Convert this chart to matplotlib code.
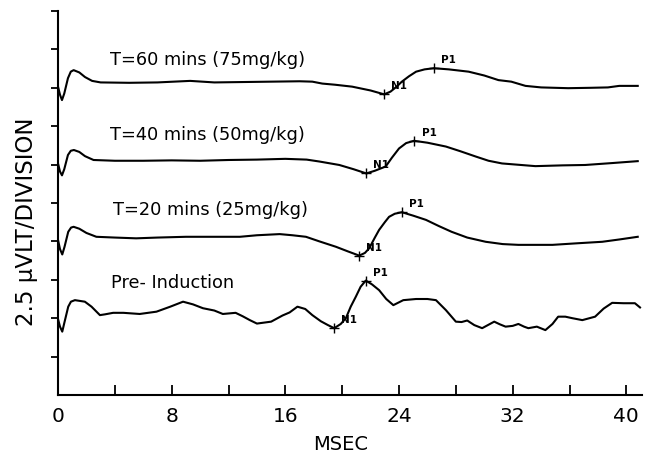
import numpy as np
import matplotlib
matplotlib.use("Agg")
import matplotlib.pyplot as plt

# traces: time (msec), amplitude (divisions)
t60 = [0, 0.14, 0.28, 0.44, 0.7, 0.9, 1.1, 1.5, 1.9, 2.4, 3.0, 5, 7, 9.3, 11,
       13, 15, 17.0, 17.9, 18.6, 19.5, 20.7, 22, 22.95, 23.4, 23.8, 24.2, 24.7,
       25.2, 25.8, 26.45, 27.5, 28.9, 30, 31.0, 31.9, 32.9, 34, 35.9, 37.5,
       38.7, 39.5, 40.8]
v60 = [8.03, 7.82, 7.68, 7.85, 8.25, 8.42, 8.46, 8.40, 8.28, 8.18, 8.14, 8.13,
       8.14, 8.18, 8.14, 8.15, 8.16, 8.17, 8.16, 8.11, 8.08, 8.03, 7.93, 7.83,
       7.9, 8.02, 8.16, 8.3, 8.42, 8.48, 8.51, 8.48, 8.42, 8.32, 8.2, 8.16,
       8.05, 8.01, 7.99, 8.0, 8.01, 8.05, 8.05]

t40 = [0, 0.14, 0.28, 0.44, 0.7, 0.9, 1.12, 1.5, 1.9, 2.5, 4, 6, 8, 10, 12, 14,
       16, 17.5, 18.4, 19.8, 20.8, 21.7, 22.3, 23.06, 23.5, 24.0, 24.5, 25.05,
       26.0, 27.3, 28.3, 29.4, 30.3, 31.25, 33.6, 35.5, 37.1, 39, 40.8]
v40 = [6.03, 5.82, 5.72, 5.88, 6.25, 6.36, 6.38, 6.33, 6.22, 6.12, 6.1, 6.1,
       6.11, 6.1, 6.12, 6.13, 6.15, 6.13, 6.08, 5.99, 5.88, 5.77, 5.84, 5.95,
       6.18, 6.42, 6.56, 6.62, 6.57, 6.47, 6.35, 6.21, 6.1, 6.03, 5.96, 5.98,
       5.99, 6.04, 6.09]

t20 = [0, 0.14, 0.3, 0.46, 0.72, 0.92, 1.1, 1.5, 2.0, 2.7, 4, 5.5, 7, 9, 11,
       12.8, 14, 15.6, 16.5, 17.45, 18.4, 19.56, 20.4, 21.2, 21.6, 21.9, 22.3,
       22.6, 23.0, 23.3, 23.7, 24.2, 25.0, 25.9, 26.8, 27.7, 28.8, 30.1, 31.3,
       32.4, 34.8, 36.5, 38.3, 39.5, 40.8]
v20 = [4.04, 3.8, 3.66, 3.86, 4.25, 4.36, 4.38, 4.33, 4.22, 4.12, 4.1, 4.08,
       4.1, 4.12, 4.12, 4.12, 4.16, 4.19, 4.16, 4.12, 4.0, 3.86, 3.74, 3.63,
       3.7, 3.82, 4.1, 4.3, 4.5, 4.64, 4.72, 4.76, 4.67, 4.56, 4.4, 4.25, 4.1,
       3.99, 3.93, 3.91, 3.91, 3.95, 3.99, 4.05, 4.12]

t_pre = [0, 0.14, 0.3, 0.44, 0.72, 0.91, 1.19, 1.89, 2.36, 2.95, 3.3, 3.88,
         4.6, 5.75, 6.93, 7.9, 8.8, 9.5, 10.2, 11.0, 11.6, 12.5, 13.0, 13.5,
         14.0, 15.0, 15.8, 16.3, 16.85, 17.4, 17.9, 18.5, 19.0, 19.44, 19.9,
         20.26, 20.6, 20.96, 21.3, 21.66, 22.1, 22.6, 23.1, 23.6, 24.3, 25.2,
         26.0, 26.6, 27.3, 28.0, 28.4, 28.8, 29.3, 29.85, 30.3, 30.7, 31.1,
         31.5, 32.0, 32.4, 32.8, 33.1, 33.7, 34.3, 34.8, 35.2, 35.7, 36.2, 36.9,
         37.4, 37.8, 38.4, 39.0, 39.8, 40.6, 40.96]
v_pre = [1.98, 1.78, 1.65, 1.87, 2.30, 2.43, 2.47, 2.43, 2.30, 2.08, 2.1, 2.14,
         2.14, 2.11, 2.17, 2.3, 2.43, 2.36, 2.26, 2.2, 2.11, 2.14, 2.05, 1.95,
         1.86, 1.91, 2.07, 2.15, 2.30, 2.24, 2.08, 1.92, 1.82, 1.74, 1.85, 2.0,
         2.3, 2.56, 2.82, 2.98, 2.88, 2.73, 2.5, 2.34, 2.47, 2.5, 2.5, 2.47,
         2.21, 1.91, 1.9, 1.94, 1.82, 1.74, 1.83, 1.91, 1.84, 1.78, 1.8, 1.85,
         1.78, 1.74, 1.78, 1.69, 1.85, 2.04, 2.04, 2.0, 1.95, 2.0, 2.04, 2.25,
         2.40, 2.39, 2.39, 2.28]

# N1 / P1 picks (time, amplitude)
n1_t = [22.95, 21.7, 21.2, 19.44]
n1_v = [7.83, 5.77, 3.63, 1.74]
p1_t = [26.45, 25.05, 24.2, 21.66]
p1_v = [8.51, 6.62, 4.76, 2.98]

labels = ["T=60 mins (75mg/kg)", "T=40 mins (50mg/kg)",
          "T=20 mins (25mg/kg)", "Pre- Induction"]
label_t = [3.65, 3.65, 3.86, 3.72]
label_v = [8.72, 6.77, 4.82, 2.91]

fig = plt.figure(figsize=(6.56, 4.55), dpi=100)
ax = fig.add_axes([58/656, 60/455, 584/656, 384/455])

for tt, vv in [(t60, v60), (t40, v40), (t20, v20), (t_pre, v_pre)]:
    ax.plot(tt, vv, color="black", lw=1.5, solid_joinstyle="round")

ax.plot(n1_t, n1_v, ls="none", marker="+", ms=7, mew=1.0, color="black")
ax.plot(p1_t, p1_v, ls="none", marker="+", ms=7, mew=1.0, color="black")
for i in range(4):
    ax.annotate("N1", (n1_t[i], n1_v[i]), xytext=(10.8, 5.8),
                textcoords="offset points", ha="center", va="center",
                fontsize=7.5, fontweight="bold")
    ax.annotate("P1", (p1_t[i], p1_v[i]), xytext=(10.8, 5.8),
                textcoords="offset points", ha="center", va="center",
                fontsize=7.5, fontweight="bold")
    ax.text(label_t[i], label_v[i], labels[i], ha="left", va="center",
            fontsize=12.8)

ax.set_xlim(0, 41.1)
ax.set_ylim(0, 10)
ax.spines["top"].set_visible(False)
ax.spines["right"].set_visible(False)
for s in ["left", "bottom"]:
    ax.spines[s].set_linewidth(1.5)

ax.set_xticks(np.arange(0, 41, 8))
ax.set_xticks(np.arange(4, 41, 8), minor=True)
ax.tick_params(axis="x", which="both", direction="in", length=7, width=1.3,
               labelsize=14.5, pad=8.5)
ax.set_yticks(np.arange(1, 11))
ax.set_yticklabels([])
ax.tick_params(axis="y", direction="out", length=5, width=1.3)

ax.set_xlabel("MSEC", fontsize=14)
ax.xaxis.set_label_coords((341 - 58) / 584, -(435 - 395) / 384)
ax.set_ylabel("2.5 μVLT/DIVISION", fontsize=16.5)
ax.yaxis.set_label_coords(-(58 - 38) / 584, (395 - 222) / 384)

fig.savefig("out.png", dpi=100)
